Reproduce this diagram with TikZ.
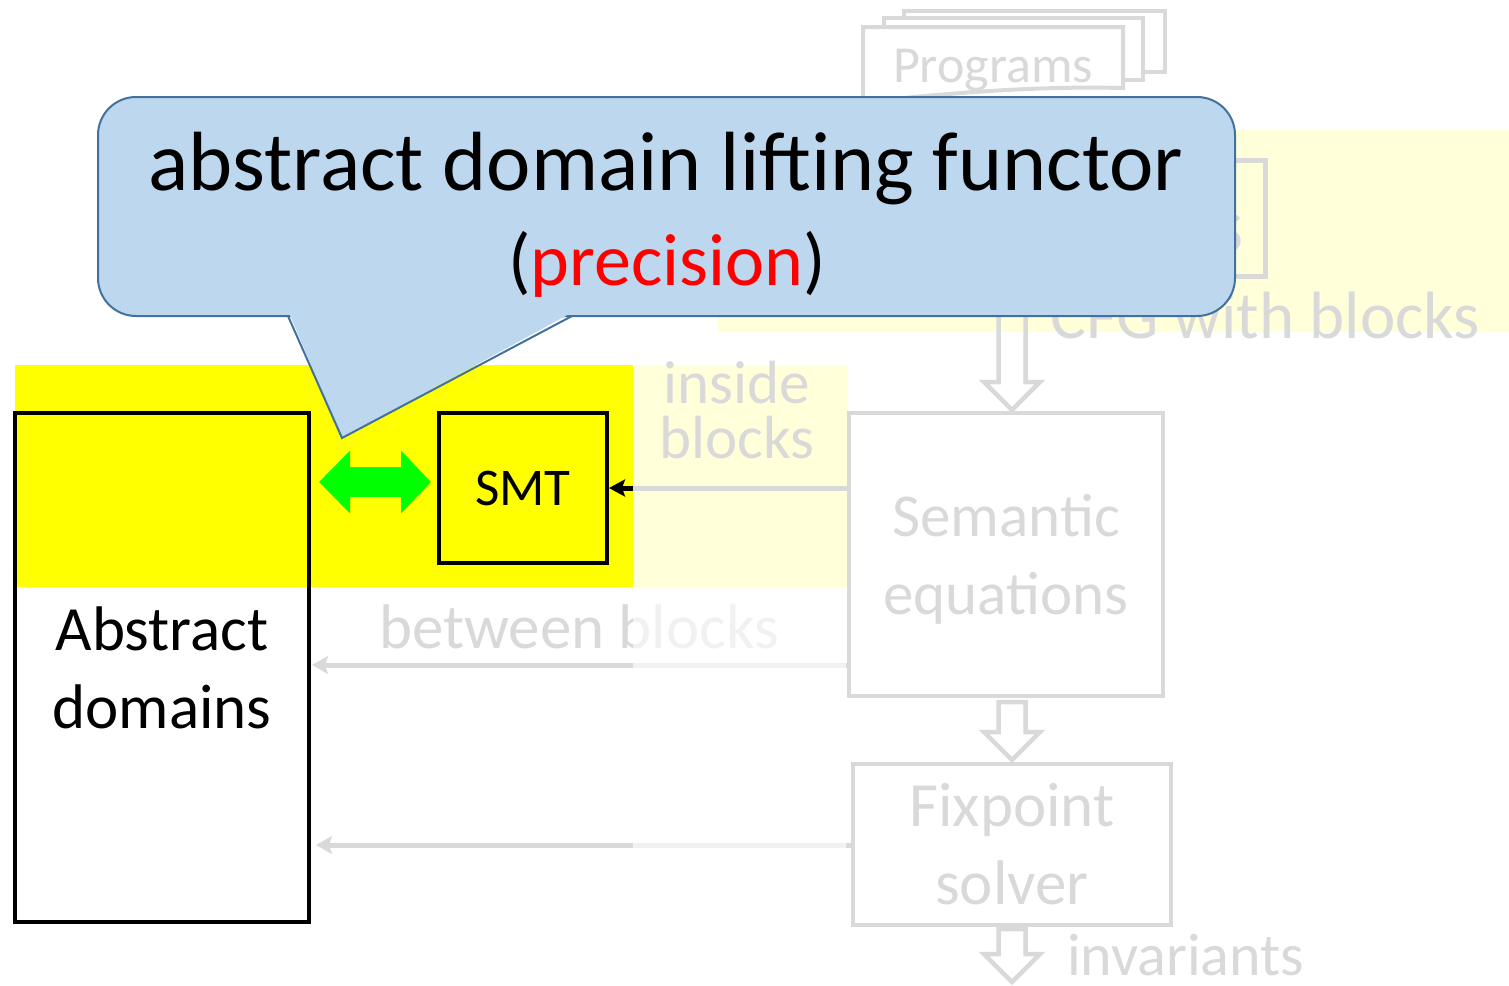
\documentclass[tikz,border=0pt]{standalone}
\usepackage{fontspec}
\setmainfont{Carlito}
\usetikzlibrary{arrows.meta,calc}

\definecolor{fadegray}{HTML}{D9D9D9}
\definecolor{paleyellow}{HTML}{FFFFD9}
\definecolor{hlyellow}{HTML}{FFFF00}
\definecolor{calloutfill}{HTML}{BDD7EE}
\definecolor{calloutline}{HTML}{41719C}
\definecolor{brightgreen}{HTML}{00FF00}

\newcommand\fsz[2][78]{\fontsize{#2}{#1}\selectfont}
% hollow down arrow: #1 = top of the shaft, #2 = tip (same x)
\newcommand\hollowdown[2]{%
  \draw[hollow] ($(#1)+(-13.5,0)$) -- ($(#2)+(-13.5,-28)$) -- ($(#2)+(-28,-28)$)
    -- (#2) -- ($(#2)+(28,-28)$) -- ($(#2)+(13.5,-28)$) -- ($(#1)+(13.5,0)$) -- cycle;}

\begin{document}
\begin{tikzpicture}[x=1pt,y=-1pt,
  box/.style={draw=black,line width=4.5pt,inner sep=0pt,outer sep=0pt,align=center},
  fadebox/.style={draw=fadegray,line width=4.5pt,inner sep=0pt,outer sep=0pt,align=center,text=fadegray},
  fadetext/.style={text=fadegray,inner sep=0pt,outer sep=0pt},
  hollow/.style={draw=fadegray,line width=4.5pt,line join=miter},
  page/.style={draw=fadegray,line width=4pt,fill=white},
  feed/.style={draw=fadegray,line width=5pt,-{Stealth[length=16pt,width=18pt,inset=3pt]}},
]
\useasboundingbox (0,0) rectangle (1509,985);

% highlight bands
\fill[paleyellow] (718,130) rectangle (1509,332);
\fill[hlyellow] (15,365) rectangle (633,587);
\fill[paleyellow] (633,365) rectangle (848,587);

% stack of program pages
\draw[page] (904,11) rectangle (1165,72);
\draw[page] (884,18) rectangle (1143,80);
\draw[page] (863,27) -- (1123,27) -- (1123,88) .. controls (1040,86) and (960,92) .. (863,102) -- cycle;
\node[fadetext,anchor=base] (prog) at (993,82) {\fsz{52}Programs};

% block graph box (mostly behind the callout)
\draw[fadegray,line width=5pt] (1000,160) rectangle (1265,276);
\node[fadetext,anchor=base east] (cfgs) at (1244,252) {\fsz{80}s};

% main boxes
\node[fadebox,font=\fsz{61},text depth=0pt,minimum width=314pt,minimum height=283pt] (sem) at (1006,554.5)
  {Semantic\\equations};
\node[fadebox,font=\fsz{63},minimum width=318pt,minimum height=161pt] (fix) at (1012,844.5)
  {Fixpoint\\solver};

% hollow flow arrows
\coordinate (h1top) at (1012,300);
\coordinate (h1tip) at ($(fix.north |- sem.north)+(0,-3)$);
\hollowdown{h1top}{h1tip}
\coordinate (h2top) at ($(fix.north |- sem.south)+(0,6)$);
\coordinate (h2tip) at ($(fix.north)+(0,-4)$);
\hollowdown{h2top}{h2tip}
\coordinate (h3top) at ($(fix.south)+(0,4)$);
\coordinate (h3tip) at ($(fix.south)+(0,57)$);
\hollowdown{h3top}{h3tip}
\node[fadetext,anchor=base west] (inv) at (1067,975) {\fsz{60}invariants};

\node[fadetext,anchor=base east] (cfg) at (1480,338) {\fsz{67}CFG with blocks};

% callout
\draw[calloutline,fill=calloutfill,line width=2pt,rounded corners=38pt] (98,97) rectangle (1235,316);
\fill[calloutfill] (289,313) -- (342,438) -- (571,313) -- cycle;
\draw[calloutline,line width=2pt,line join=miter] (288,316) -- (342,438) -- (572,316);
\node[inner sep=0pt,anchor=base] (title) at (666,190) {\fsz{84}abstract domain lifting functor};
\node[inner sep=0pt,anchor=base] (prec) at (667,285) {\fsz{74}(\textcolor{red}{precision})};

% labels on the links
\node[fadetext,anchor=base] (ins1) at (737,403) {\fsz{61}inside};
\node[fadetext,anchor=base] (ins2) at (737,458) {\fsz{61}blocks};
\node[fadetext,anchor=base] (betw) at (579,648) {\fsz{63}between blocks};

% abstract domains and SMT
\node[box,font=\fsz{63},minimum width=294pt,minimum height=509pt] (absd) at (162,667.5)
  {Abstract\\domains};
\node[box,fill=hlyellow,font=\fsz{53},minimum width=168pt,minimum height=150pt] (smt) at (523,488)
  {SMT};

% links into the abstract domains
\coordinate (yb) at (0,665);
\coordinate (yc) at (0,845);
\draw[feed,shorten >=3pt] (sem.west |- yb) -- (absd.east |- yb);
\draw[feed,shorten >=7pt] (fix.west |- yc) -- (absd.east |- yc);

% link from the equations to SMT
\coordinate (cut) at (633,488);
\draw[fadegray,line width=5pt] (sem.west |- cut) -- (cut);
\draw[black,line width=5pt,-{Stealth[length=16pt,width=17pt,inset=3pt]},shorten >=2pt] (cut) -- (smt.east |- cut);

% faded part of the lower links
\fill[white,opacity=0.65] (633,592) rectangle (846,870);

% two-way link between abstract domains and SMT
\coordinate (gy) at (0,482);
\draw[brightgreen,line width=30pt,{Triangle[length=31pt,width=61pt]}-{Triangle[length=30pt,width=61pt]},
  shorten <=10pt,shorten >=8pt] (absd.east |- gy) -- (smt.west |- gy);
\end{tikzpicture}
\end{document}
